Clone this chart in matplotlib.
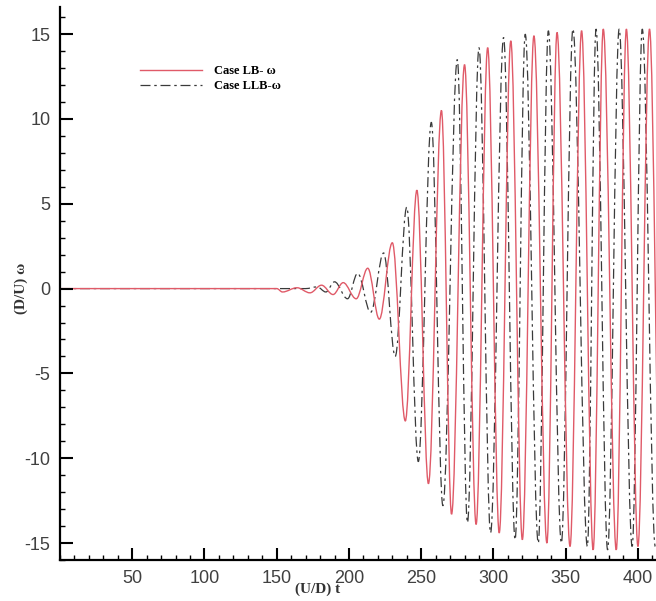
import numpy as np
import matplotlib
matplotlib.use('Agg')
import matplotlib.pyplot as plt
from matplotlib.ticker import MultipleLocator
from matplotlib.path import Path
from matplotlib.patches import PathPatch
from matplotlib.lines import Line2D

plt.rcParams['axes.unicode_minus'] = False

# extrema (time, value) - Case LB
t_lb = [0, 150, 154, 164, 173, 181, 189, 196, 205, 213, 221, 230, 239, 247, 255, 264,
        271, 280, 288, 296, 304, 312, 320, 328, 337, 344, 353, 361, 369, 376, 385,
        392, 400, 408, 416]
w_lb = [0, 0, -0.2, 0.05, -0.25, 0.2, -0.35, 0.35, -0.6, 1.2, -1.8, 2.7, -7.8, 5.8,
        -11.5, 10.5, -13.3, 13.2, -13.9, 14.2, -14.4, 14.6, -14.8, 14.9, -15.0, 15.1,
        -15.2, 15.2, -15.4, 15.3, -15.4, 15.3, -15.2, 15.3, -15.2]

# Case LLB
t_llb = [0, 170, 178, 184, 190, 199, 206, 215, 224, 232, 240, 248, 257, 265, 275,
         282, 290, 298, 307, 315, 322, 331, 338, 347, 355, 365, 371, 379, 387, 396,
         403, 412]
w_llb = [0, 0, 0.1, -0.2, 0.4, -0.6, 0.9, -1.4, 2.1, -4.0, 4.8, -10.2, 9.8, -12.8,
         13.5, -13.8, 14.2, -14.4, 14.8, -14.8, 15.0, -15.0, 15.2, -15.0, 15.3, -15.2,
         15.3, -15.4, 15.3, -15.2, 15.3, -15.2]

xticks = [50, 100, 150, 200, 250, 300, 350, 400]
yticks = [-15, -10, -5, 0, 5, 10, 15]


def wave_path(t, w):
    # smooth bezier path through the extrema (flat tangent at each one)
    verts = [(t[0], w[0])]
    codes = [Path.MOVETO]
    for i in range(1, len(t)):
        d = t[i] - t[i-1]
        verts += [(t[i-1] + 0.36*d, w[i-1]), (t[i] - 0.36*d, w[i]), (t[i], w[i])]
        codes += [Path.CURVE4]*3
    return Path(verts, codes)


fig = plt.figure(figsize=(6.56, 6.01), dpi=100)
ax = fig.add_axes([60/656, 41/601, 596/656, 553/601])

red = '#e05a68'
blk = '#3a3a3a'
dash = (0, (8, 3, 2, 3))
ax.add_patch(PathPatch(wave_path(t_llb, w_llb), fill=False, edgecolor=blk, lw=0.9, ls=dash))
ax.add_patch(PathPatch(wave_path(t_lb, w_lb), fill=False, edgecolor=red, lw=1.0))

ax.set_xlim(0, 412.5)
ax.set_ylim(-16.0, 16.6)
ax.set_xticks(xticks)
ax.set_yticks(yticks)
ax.xaxis.set_minor_locator(MultipleLocator(10))
ax.yaxis.set_minor_locator(MultipleLocator(1))
ax.tick_params(which='major', direction='in', length=9, width=1.5, labelsize=13,
               labelcolor='#404040', pad=7)
ax.tick_params(which='minor', direction='in', length=3.6, width=1.0)
for lab in ax.get_xticklabels() + ax.get_yticklabels():
    lab.set_family('Liberation Sans')
for s in ['top', 'right']:
    ax.spines[s].set_visible(False)
for s in ['left', 'bottom']:
    ax.spines[s].set_linewidth(1.6)

fig.text(21/656, 1 - 288/601, '(D/U) ω', rotation=90, ha='center', va='center',
         family='Liberation Serif', weight='bold', fontsize=11, color='#333333')
fig.text(318/656, 1 - 589/601, '(U/D) t', ha='center', va='center',
         family='Liberation Serif', weight='bold', fontsize=11, color='#333333')

handles = [Line2D([], [], color=red, lw=1.0), Line2D([], [], color=blk, lw=0.9, ls=dash)]
ax.legend(handles, ['Case LB- ω', 'Case LLB-ω'], loc='upper left',
          bbox_to_anchor=(0.115, 0.915), frameon=False,
          prop={'family': 'Liberation Serif', 'weight': 'bold', 'size': 9},
          handlelength=5.0, labelspacing=0.25, handletextpad=0.9)

fig.savefig('out.png', dpi=100)
